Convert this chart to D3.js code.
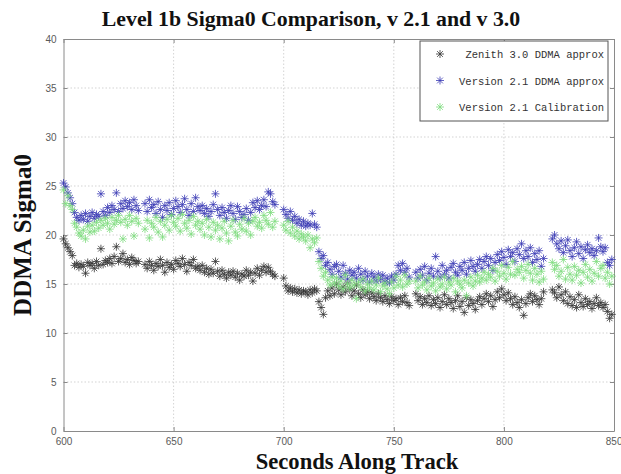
<!DOCTYPE html>
<html>
<head>
<meta charset="utf-8">
<script src="https://cdn.jsdelivr.net/npm/d3@7"></script>
<style>
  html, body { margin: 0; padding: 0; background: #fff; }
  svg { display: block; }
</style>
</head>
<body>
<svg id="chart" width="621" height="474"></svg>
<script>
// ------------------
// Data
// ------------------
const seconds = [
  600,601,602,603,604,605,606,607,608,609,610,611,612,613,614,615,616,617,618,619,620,621,622,623,624,625,626,627,628,629,630,631,632,633,634,
  637,638,639,640,641,642,643,644,645,646,647,648,649,650,651,652,653,654,655,656,657,658,659,660,661,662,663,664,665,666,
  667,668,669,670,671,672,673,674,675,676,677,678,679,680,681,682,683,684,685,686,687,688,689,690,691,692,693,694,695,696,
  700,701,702,703,704,705,706,707,708,709,710,711,712,713,714,715,
  716,717,718,719,720,721,722,723,724,725,726,727,728,729,730,731,732,733,734,735,736,737,738,739,740,741,742,743,744,745,
  746,747,748,749,750,751,752,753,754,755,756,757,
  760,761,762,763,764,765,766,767,768,769,770,771,772,773,774,775,776,777,778,779,780,781,782,783,784,785,786,787,788,789,
  790,791,792,793,794,795,796,797,798,799,800,801,802,803,804,805,806,807,808,809,810,811,812,813,814,815,816,817,818,
  822,823,824,825,826,827,828,829,830,831,832,833,834,835,836,837,838,839,840,841,842,843,844,845,846,847,848,849
]

const zenith30 = [
  19.6,19.1,18.7,18.3,17.9,16.9,17.1,16.7,17.0,16.8,16.1,17.2,16.9,17.1,16.6,17.3,16.9,18.6,17.0,17.4,17.2,17.6,17.1,17.8,18.8,17.3,17.6,18.1,17.2,17.5,17.0,17.7,17.4,17.1,17.3,
  17.0,16.6,17.3,16.9,16.4,17.1,16.8,17.5,16.9,16.2,17.2,16.7,17.0,16.5,17.4,17.1,16.8,17.6,17.0,16.3,17.2,16.9,17.5,16.6,16.8,16.4,16.9,16.2,16.6,16.0,
  16.5,16.1,17.3,16.3,15.8,16.4,16.0,15.6,16.2,15.9,16.3,15.7,16.1,15.4,16.0,15.8,16.4,15.9,16.2,15.3,16.1,16.6,15.9,16.4,16.8,16.2,16.7,16.3,16.0,15.8,
  15.6,14.8,14.3,14.6,14.2,14.5,14.1,14.4,14.0,14.3,14.2,13.9,14.4,14.1,14.5,14.3,
  13.2,12.6,11.9,13.6,14.3,13.8,14.6,14.0,15.0,14.4,13.9,14.7,14.2,15.1,14.5,13.8,14.3,14.9,14.0,13.6,14.4,13.9,14.2,13.5,14.1,13.7,13.3,14.0,13.6,13.2,
  13.8,13.4,13.0,13.7,13.3,13.5,12.9,13.6,13.2,13.8,13.1,12.8,
  14.0,13.3,13.7,12.9,13.5,13.1,13.8,12.8,13.4,13.0,13.6,12.6,13.2,13.9,12.9,13.5,13.1,12.5,13.3,13.8,12.7,13.2,12.1,13.6,12.8,13.4,13.0,12.4,13.3,13.7,
  12.9,13.5,14.0,13.2,13.8,12.7,13.4,14.2,13.6,14.5,13.9,13.3,14.1,13.5,12.9,13.7,13.1,12.6,13.4,11.8,13.0,13.6,14.0,13.2,13.8,13.4,12.9,13.5,14.2,
  14.4,14.1,13.6,14.7,13.9,13.3,14.2,13.0,13.7,12.8,13.4,12.6,13.9,13.1,12.7,13.5,12.9,13.2,12.5,13.0,13.6,12.8,13.1,12.6,12.9,12.2,11.5,11.9
]

const v21Ddma = [
  25.3,24.9,24.3,23.8,23.2,22.3,21.8,21.5,22.0,21.6,22.2,21.4,21.9,22.3,21.7,22.1,21.9,24.2,22.4,22.0,22.8,22.3,23.0,22.6,24.3,22.4,23.2,22.7,23.5,22.9,23.3,22.6,23.6,23.0,22.5,
  23.2,22.4,23.6,22.8,23.1,22.2,23.4,22.6,21.8,23.0,22.5,23.3,22.1,22.7,23.5,22.9,22.3,23.1,23.7,22.6,22.0,23.2,22.4,23.8,22.9,22.5,23.0,22.2,22.7,21.9,
  22.4,23.1,24.2,22.6,22.0,22.8,22.3,21.7,22.5,23.0,22.2,21.6,22.9,22.4,21.8,22.1,22.7,21.5,22.3,23.3,22.8,23.5,22.6,23.0,23.6,22.9,24.4,24.2,23.4,23.1,
  22.6,22.1,21.7,22.4,21.5,21.9,21.2,21.6,21.0,21.4,20.9,21.2,21.0,22.2,21.1,20.8,
  18.3,17.6,17.9,16.9,17.2,16.5,16.0,16.8,17.0,16.3,15.7,16.9,16.1,15.5,16.4,15.9,16.2,15.6,16.6,16.0,15.4,16.3,15.8,15.2,16.1,15.7,15.3,16.0,15.5,15.9,
  15.2,15.6,15.1,15.8,15.4,16.0,16.9,16.4,17.1,16.2,16.6,15.7,
  16.2,15.6,16.5,15.9,16.8,15.4,16.1,16.6,15.8,17.8,16.3,15.7,16.9,16.0,16.4,15.6,16.7,17.1,16.2,15.9,16.8,16.4,17.2,16.0,16.6,17.4,16.8,16.3,17.0,17.5,
  16.6,17.3,17.8,16.9,17.6,16.4,17.2,18.0,17.4,18.3,17.7,17.0,18.5,17.8,18.2,17.3,18.6,18.0,19.1,17.6,18.4,17.8,18.7,17.2,18.1,17.5,18.4,16.8,17.6,
  19.6,20.0,19.1,18.6,19.4,18.2,18.9,19.5,18.4,17.8,18.7,19.3,18.1,18.8,17.6,18.5,19.0,18.2,18.6,17.9,18.4,19.7,18.8,18.3,18.7,17.2,16.9,17.5
]

const v21Cal = [
  24.6,23.2,24.0,23.0,22.6,21.2,20.8,20.2,19.9,20.5,19.6,20.9,20.3,21.0,20.4,21.3,20.7,21.5,21.0,21.7,21.2,20.6,21.8,21.1,21.5,22.0,21.3,19.6,21.6,21.0,22.0,21.4,19.9,21.7,21.2,
  20.6,21.5,19.7,21.2,20.8,21.8,20.3,21.4,19.8,21.0,21.6,20.5,22.0,21.3,20.9,21.7,20.4,22.1,21.2,20.7,21.5,20.1,21.9,21.0,21.4,20.6,21.2,20.0,21.6,20.8,
  19.8,21.3,20.5,21.0,19.6,20.7,21.4,20.2,19.4,20.9,21.5,20.3,19.9,21.1,20.6,21.7,20.4,21.2,20.0,21.4,21.8,20.9,21.3,20.7,22.0,21.5,21.1,22.3,20.8,21.4,
  21.0,20.5,21.4,20.2,20.8,19.9,20.4,19.6,20.1,19.8,19.4,20.0,18.7,19.6,19.2,19.7,
  17.3,16.6,15.8,16.2,15.4,14.9,15.7,15.1,15.6,14.8,15.3,14.5,15.9,15.0,14.6,15.4,14.9,13.5,15.2,14.7,15.5,14.3,15.0,14.6,15.3,14.4,14.9,15.6,14.2,14.8,
  15.1,14.5,14.0,15.2,14.6,15.8,14.9,15.4,14.7,15.9,15.0,15.3,
  15.3,14.6,15.8,14.9,15.2,14.4,15.6,14.8,15.1,14.3,15.5,14.7,15.0,15.7,14.5,15.2,14.9,15.6,14.2,15.3,15.0,14.6,15.4,13.8,15.1,15.7,14.8,15.3,15.9,15.2,
  15.6,16.2,15.4,16.0,15.7,16.6,15.3,16.3,15.8,16.9,16.1,15.5,16.7,16.0,17.3,15.9,16.5,16.2,16.8,15.6,16.4,17.0,16.1,15.4,16.6,16.0,15.2,16.3,15.5,
  17.2,16.5,16.9,15.8,16.3,17.5,15.5,16.7,16.0,15.4,16.8,15.9,16.4,15.1,16.2,17.0,15.7,16.5,15.3,16.1,17.3,15.8,16.6,16.9,15.6,16.2,15.0,15.8
]

const xTicks = [600, 650, 700, 750, 800, 850]
const yTicks = [0, 5, 10, 15, 20, 25, 30, 35, 40]

const seriesNames = ['Zenith 3.0 DDMA approx', 'Version 2.1 DDMA approx', 'Version 2.1 Calibration']
const seriesColors = ['#333333', '#3a3ab4', '#7ddc7d']

// ------------------
// Layout
// ------------------
const svg = d3.select('#chart')
const width = 621
const height = 474
const margin = { top: 39, right: 7, bottom: 43, left: 63.5 }
const innerWidth = width - margin.left - margin.right
const innerHeight = height - margin.top - margin.bottom

const g = svg.append('g')
  .attr('transform', `translate(${margin.left},${margin.top})`)

// ------------------
// Scales
// ------------------
const x = d3.scaleLinear()
  .domain([600, 850])
  .range([0, innerWidth])

const y = d3.scaleLinear()
  .domain([0, 40])
  .range([innerHeight, 0])

// ------------------
// Grid
// ------------------
g.append('g')
  .selectAll('line')
  .data(xTicks.slice(1, -1))
  .enter()
  .append('line')
  .attr('x1', d => x(d))
  .attr('x2', d => x(d))
  .attr('y1', 0)
  .attr('y2', innerHeight)
  .attr('stroke', '#c8c8c8')
  .attr('stroke-width', 0.8)
  .attr('stroke-dasharray', '1.5,2')

g.append('g')
  .selectAll('line')
  .data(yTicks.slice(1, -1))
  .enter()
  .append('line')
  .attr('x1', 0)
  .attr('x2', innerWidth)
  .attr('y1', d => y(d))
  .attr('y2', d => y(d))
  .attr('stroke', '#c8c8c8')
  .attr('stroke-width', 0.8)
  .attr('stroke-dasharray', '1.5,2')

// ------------------
// Axes (inward ticks, boxed)
// ------------------
const styleAxis = sel => {
  sel.selectAll('path').attr('stroke', '#8a8a8a').attr('stroke-width', 1)
  sel.selectAll('line').attr('stroke', '#8a8a8a')
  sel.selectAll('text')
    .attr('fill', '#5a5a5a')
    .attr('font-family', 'Liberation Sans, Arial, sans-serif')
    .attr('font-size', 10)
}

const xAxis = g.append('g')
  .attr('transform', `translate(0,${innerHeight})`)
  .call(d3.axisBottom(x).tickValues(xTicks).tickSizeInner(-4).tickSizeOuter(0).tickPadding(7))
  .call(styleAxis)

// keep the last label inside the page
xAxis.selectAll('.tick text')
  .filter(d => d === 850)
  .attr('text-anchor', 'end')
  .attr('dx', 8)

g.append('g')
  .call(d3.axisLeft(y).tickValues(yTicks).tickSizeInner(-4).tickSizeOuter(0).tickPadding(7))
  .call(styleAxis)

// top and right box edges carry ticks only
g.append('g')
  .call(d3.axisTop(x).tickValues(xTicks).tickSizeInner(-4).tickSizeOuter(0))
  .call(styleAxis)
  .selectAll('text').remove()

g.append('g')
  .attr('transform', `translate(${innerWidth},0)`)
  .call(d3.axisRight(y).tickValues(yTicks).tickSizeInner(-4).tickSizeOuter(0))
  .call(styleAxis)
  .selectAll('text').remove()

// ------------------
// Asterisk markers
// ------------------
const star = d3.symbol().type({
  draw(ctx, size) {
    const r = Math.sqrt(size) / 2
    const d = r * 0.72
    ctx.moveTo(-r, 0); ctx.lineTo(r, 0)
    ctx.moveTo(0, -r); ctx.lineTo(0, r)
    ctx.moveTo(-d, -d); ctx.lineTo(d, d)
    ctx.moveTo(-d, d); ctx.lineTo(d, -d)
  }
}).size(64)

const series = [zenith30, v21Ddma, v21Cal]

series.forEach((values, i) => {
  g.append('g')
    .selectAll('path')
    .data(values.map((v, j) => ({ t: seconds[j], v })))
    .enter()
    .append('path')
    .attr('transform', d => `translate(${x(d.t)},${y(d.v)})`)
    .attr('d', star)
    .attr('fill', 'none')
    .attr('stroke', seriesColors[i])
    .attr('stroke-width', 0.8)
})

// ------------------
// Legend
// ------------------
const legend = svg.append('g')
  .attr('transform', 'translate(420,41)')

legend.append('rect')
  .attr('width', 188)
  .attr('height', 80)
  .attr('fill', '#fff')
  .attr('stroke', '#555')
  .attr('stroke-width', 1)

seriesNames.forEach((name, i) => {
  legend.append('path')
    .attr('transform', `translate(20,${13 + i * 26.5})`)
    .attr('d', star)
    .attr('fill', 'none')
    .attr('stroke', seriesColors[i])
    .attr('stroke-width', 0.8)

  legend.append('text')
    .attr('x', 184)
    .attr('y', 17 + i * 26.5)
    .attr('text-anchor', 'end')
    .attr('font-family', 'Liberation Mono, Courier New, monospace')
    .attr('font-size', 10.5)
    .attr('fill', '#333')
    .text(name)
})

// ------------------
// Titles
// ------------------
svg.append('text')
  .attr('x', 311)
  .attr('y', 26)
  .attr('text-anchor', 'middle')
  .attr('font-family', 'Liberation Serif, Times New Roman, serif')
  .attr('font-weight', 'bold')
  .attr('font-size', 21.8)
  .attr('fill', '#111')
  .text('Level 1b Sigma0 Comparison, v 2.1 and v 3.0')

svg.append('text')
  .attr('x', 357)
  .attr('y', 469)
  .attr('text-anchor', 'middle')
  .attr('font-family', 'Liberation Serif, Times New Roman, serif')
  .attr('font-weight', 'bold')
  .attr('font-size', 22.6)
  .attr('fill', '#111')
  .text('Seconds Along Track')

svg.append('text')
  .attr('transform', 'translate(31,235) rotate(-90)')
  .attr('text-anchor', 'middle')
  .attr('font-family', 'Liberation Serif, Times New Roman, serif')
  .attr('font-weight', 'bold')
  .attr('font-size', 25)
  .attr('fill', '#111')
  .text('DDMA Sigma0')
</script>
</body>
</html>
